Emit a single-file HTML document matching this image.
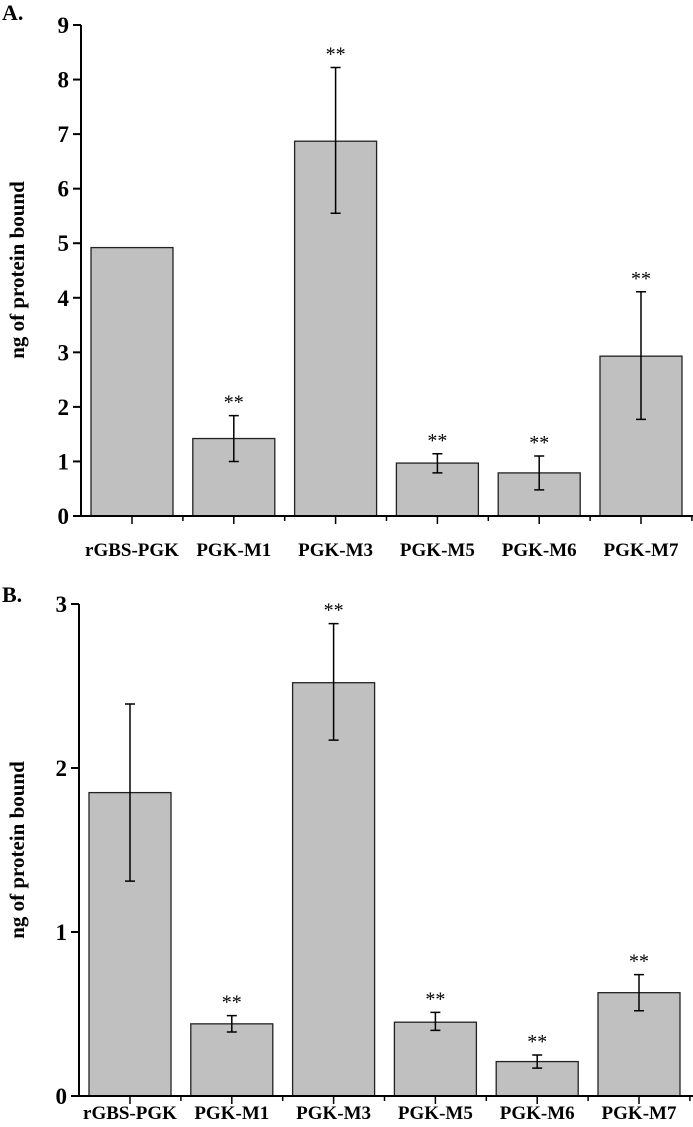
<!DOCTYPE html>
<html><head><meta charset="utf-8"><style>
html,body{margin:0;padding:0;background:#fff;}
svg{display:block;font-family:"Liberation Serif",serif;}
</style></head><body>
<svg id="chart" width="693" height="1127" viewBox="0 0 693 1127" xmlns="http://www.w3.org/2000/svg">
<text x="2" y="20" font-size="22" font-weight="bold">A.</text>
<text x="2" y="602" font-size="22" font-weight="bold">B.</text>
<text transform="translate(24,270) rotate(-90)" text-anchor="middle" font-size="21" font-weight="bold">ng of protein bound</text>
<text transform="translate(24,850) rotate(-90)" text-anchor="middle" font-size="21" font-weight="bold">ng of protein bound</text>
<g id="ga"></g><g id="gb"></g>
</svg>
<script>
const categories = ["rGBS-PGK","PGK-M1","PGK-M3","PGK-M5","PGK-M6","PGK-M7"];
const valuesA = [4.92,1.42,6.87,0.97,0.79,2.93];
const errLowA = [null,1.00,5.55,0.79,0.48,1.77];
const errHighA = [null,1.84,8.22,1.14,1.10,4.11];
const starsA = [false,true,true,true,true,true];
const ticksA = [0,1,2,3,4,5,6,7,8,9];
const valuesB = [1.85,0.44,2.52,0.45,0.21,0.63];
const errLowB = [1.31,0.39,2.17,0.40,0.17,0.52];
const errHighB = [2.39,0.49,2.88,0.51,0.25,0.74];
const starsB = [false,true,true,true,true,true];
const ticksB = [0,1,2,3];
const NS="http://www.w3.org/2000/svg";
function mk(tag,attrs,parent){const e=document.createElementNS(NS,tag);for(const k in attrs)e.setAttribute(k,attrs[k]);parent.appendChild(e);return e;}
function draw(g,cfg){
  const {axisX,y0,yTop,maxV,vals,lo,hi,stars,ticks,labY,pfx}=cfg;
  const y=v=>y0-(v/maxV)*(y0-yTop);
  const step=101.8, c0=axisX+51;
  const xc=i=>c0+i*step;
  const bw=82;
  vals.forEach((v,i)=>{
    const r=mk('rect',{x:xc(i)-bw/2,y:y(v),width:bw,height:y0-y(v),fill:'#c0c0c0',stroke:'#222','stroke-width':1.3},g);
    
    
    if(lo[i]!==null){
      const eb=mk('path',{d:`M${xc(i)},${y(lo[i])}V${y(hi[i])}M${xc(i)-5},${y(lo[i])}h10M${xc(i)-5},${y(hi[i])}h10`,stroke:'#000','stroke-width':1.5,fill:'none'},g);
      
      
    }
    if(stars[i]){
      const t=mk('text',{x:xc(i),y:y(hi[i])-7,'text-anchor':'middle','font-size':20},g);
      t.textContent='**';
      
      
    }
    const tk=mk('line',{x1:xc(i),x2:xc(i),y1:y0,y2:y0+8,stroke:'#000','stroke-width':1.5},g);
    
    
    const mt=mk('line',{x1:xc(i)+step/2,x2:xc(i)+step/2,y1:y0,y2:y0+5,stroke:'#000','stroke-width':1.5},g);
    
    
    const lb=mk('text',{x:xc(i),y:labY,'text-anchor':'middle','font-size':19,'font-weight':'bold'},g);
    lb.textContent=categories[i];
    
    
  });
  const ya=mk('line',{x1:axisX,x2:axisX,y1:yTop,y2:y0,stroke:'#000','stroke-width':2},g);
  
  
  const xa=mk('line',{x1:axisX-3,x2:693,y1:y0,y2:y0,stroke:'#000','stroke-width':2},g);
  
  
  ticks.forEach(t=>{
    const l=mk('line',{x1:axisX-8,x2:axisX,y1:y(t),y2:y(t),stroke:'#000','stroke-width':2},g);
    
    
    const tx=mk('text',{x:axisX-12,y:y(t)+8,'text-anchor':'end','font-size':23,'font-weight':'bold'},g);
    tx.textContent=t;
    
    
  });
}
draw(document.getElementById('ga'),{axisX:81,y0:516,yTop:25,maxV:9,vals:valuesA,lo:errLowA,hi:errHighA,stars:starsA,ticks:ticksA,labY:556,pfx:'a-'});
draw(document.getElementById('gb'),{axisX:79,y0:1096,yTop:604,maxV:3,vals:valuesB,lo:errLowB,hi:errHighB,stars:starsB,ticks:ticksB,labY:1119,pfx:'b-'});
</script>
</body></html>
